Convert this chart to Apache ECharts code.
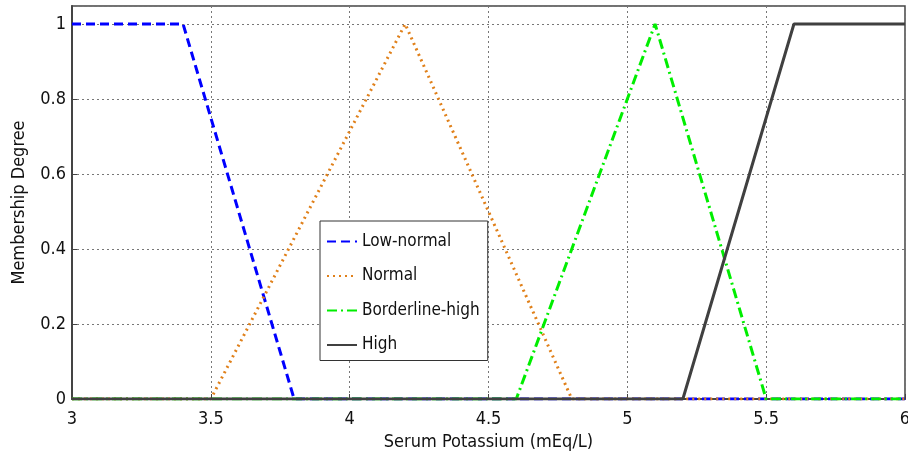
<!DOCTYPE html>
<html><head><meta charset="utf-8">
<script src="https://cdn.jsdelivr.net/npm/echarts@6/dist/echarts.min.js"></script>
<style>html,body{margin:0;padding:0;background:#fff}#c{width:908px;height:454px}</style>
</head><body><div id="c"></div>
<script>
var seriesNames = ['Low-normal', 'Normal', 'Borderline-high', 'High'];
var lowNormalX = [3, 3.4, 3.8, 6];
var lowNormalY = [1, 1, 0, 0];
var normalX = [3, 3.5, 4.2, 4.8, 6];
var normalY = [0, 0, 1, 0, 0];
var borderX = [3, 4.6, 5.1, 5.5, 6];
var borderY = [0, 0, 1, 0, 0];
var highX = [3, 5.2, 5.6, 6];
var highY = [0, 0, 1, 1];
var xTicks = [3, 3.5, 4, 4.5, 5, 5.5, 6];
var yTicks = [0, 0.2, 0.4, 0.6, 0.8, 1];

function pairs(xs, ys){ return xs.map(function(x,i){return [x, ys[i]];}); }
var FONT = '"DejaVu Sans Condensed","Liberation Sans Narrow","Roboto Condensed",sans-serif';
var chart = echarts.init(document.getElementById('c'));
var styles = [
  {color:'#0000ff', type:[9,5], z:3},
  {color:'#e0801a', type:[2,4], z:4},
  {color:'#00ee00', type:[10,4,2,4], z:5},
  {color:'#404040', type:'solid', z:6}
];
var datas = [pairs(lowNormalX,lowNormalY), pairs(normalX,normalY), pairs(borderX,borderY), pairs(highX,highY)];
var series = seriesNames.map(function(n,i){
  return {name:n, type:'line', data:datas[i], symbol:'none', z:styles[i].z,
    lineStyle:{color:styles[i].color, width:3, type:styles[i].type},
    itemStyle:{color:styles[i].color}};
});
chart.setOption({
  animation:false,
  grid:{left:72, right:3, top:6, bottom:55, show:true, borderColor:'#444', borderWidth:1.5, containLabel:false, outerBoundsMode:'none'},
  xAxis:{type:'value', min:3, max:6, interval:0.5,
    name:'Serum Potassium (mEq/L)', nameLocation:'middle', nameGap:27,
    nameTextStyle:{fontFamily:FONT, fontSize:18, color:'#111'},
    axisLine:{lineStyle:{color:'#444', width:2}},
    axisTick:{inside:true, length:5, lineStyle:{color:'#444'}},
    axisLabel:{fontFamily:FONT, fontSize:18, color:'#111', margin:11},
    splitLine:{show:true, lineStyle:{color:'#777', type:[2,3], width:1}}},
  yAxis:{type:'value', min:0, max:1.048, interval:0.2,
    name:'Membership Degree', nameLocation:'middle', nameGap:44,
    nameTextStyle:{fontFamily:FONT, fontSize:18, color:'#111'},
    axisLine:{show:true, lineStyle:{color:'#444', width:2}},
    axisTick:{show:true, inside:true, length:5, lineStyle:{color:'#444'}},
    axisLabel:{fontFamily:FONT, fontSize:18, color:'#111', margin:6, showMaxLabel:false,
      formatter:function(v){ return yTicks.indexOf(Math.round(v*10)/10)>=0 ? String(Math.round(v*10)/10) : ''; }},
    splitLine:{show:true, lineStyle:{color:'#777', type:[2,3], width:1}}},
  legend:{show:true, orient:'vertical', left:320, top:221, padding:[12,8,7,6],
    backgroundColor:'#fff', borderColor:'#333', borderWidth:1,
    itemWidth:30, itemHeight:14, itemGap:17.5,
    itemStyle:{opacity:0},
    textStyle:{fontFamily:FONT, fontSize:17, color:'#111'},
    data:seriesNames},
  series:series
});
</script></body></html>
